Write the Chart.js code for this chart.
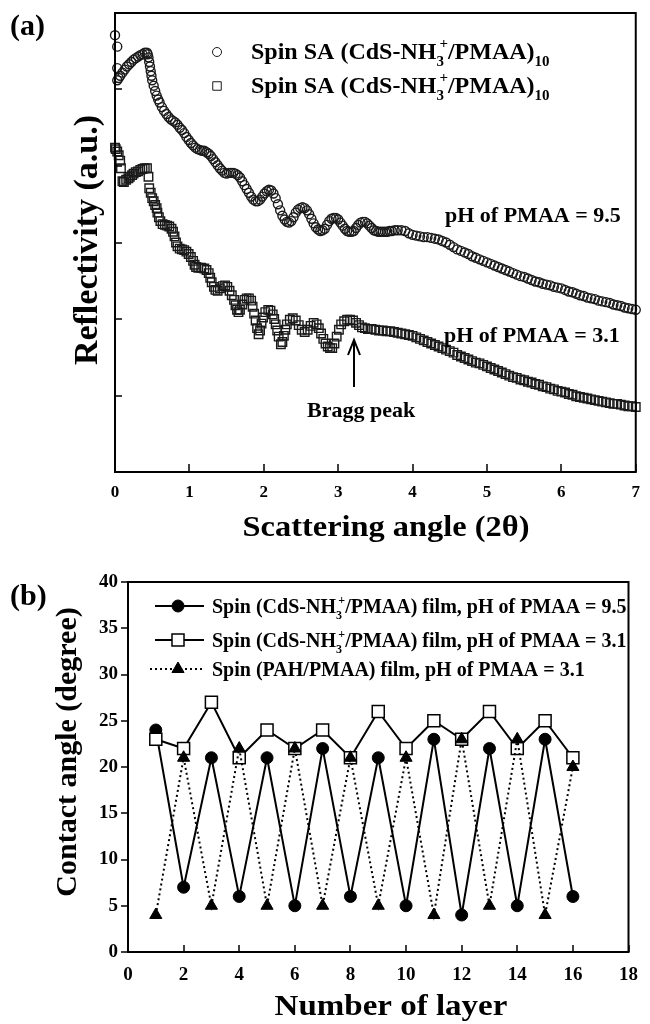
<!DOCTYPE html>
<html>
<head>
<meta charset="utf-8">
<script src="https://cdn.jsdelivr.net/npm/chart.js@4.4.1/dist/chart.umd.min.js"></script>
<style>
  html, body { margin: 0; padding: 0; background: #fff; }
  #wrap { position: relative; width: 650px; height: 1024px; }
  #wrap canvas { position: absolute; left: 0; }
  #reflect { top: 0; }
  #contact { top: 560px; }
</style>
</head>
<body>
<div id="wrap">
  <canvas id="reflect" width="650" height="560"></canvas>
  <canvas id="contact" width="650" height="464"></canvas>
</div>
<script>
(function () {
  "use strict";

  var SERIF = '"Liberation Serif", "Times New Roman", serif';
  Chart.defaults.font.family = SERIF;
  Chart.defaults.font.weight = "bold";
  Chart.defaults.color = "#000";

  // (a) X-ray reflectivity, scattering angle 2theta vs log reflectivity (a.u.)
  var upperAngle = [
    0.00, 0.03, 0.03, 0.03, 0.05, 0.07, 0.10, 0.13, 0.16, 0.19,
    0.22, 0.25, 0.28, 0.31, 0.34, 0.37, 0.40, 0.43, 0.44, 0.45,
    0.46, 0.47, 0.48, 0.49, 0.50, 0.52, 0.54, 0.56, 0.58, 0.60,
    0.63, 0.66, 0.69, 0.72, 0.75, 0.78, 0.81, 0.84, 0.87, 0.90,
    0.93, 0.96, 0.99, 1.02, 1.05, 1.08, 1.11, 1.14, 1.17, 1.20,
    1.23, 1.26, 1.29, 1.32, 1.35, 1.38, 1.41, 1.44, 1.47, 1.50,
    1.53, 1.56, 1.59, 1.62, 1.65, 1.68, 1.71, 1.74, 1.77, 1.80,
    1.83, 1.86, 1.89, 1.92, 1.95, 1.98, 2.01, 2.04, 2.07, 2.10,
    2.13, 2.16, 2.19, 2.22, 2.25, 2.28, 2.31, 2.34, 2.37, 2.40,
    2.43, 2.46, 2.49, 2.52, 2.55, 2.58, 2.61, 2.64, 2.67, 2.70,
    2.73, 2.76, 2.79, 2.82, 2.85, 2.88, 2.91, 2.94, 2.97, 3.00,
    3.03, 3.06, 3.09, 3.12, 3.15, 3.18, 3.21, 3.24, 3.27, 3.30,
    3.33, 3.36, 3.39, 3.42, 3.45, 3.48, 3.51, 3.54, 3.57, 3.60,
    3.63, 3.66, 3.69, 3.72, 3.76, 3.80, 3.85, 3.90, 3.95, 4.00,
    4.05, 4.10, 4.15, 4.20, 4.25, 4.30, 4.35, 4.40, 4.45, 4.50,
    4.55, 4.60, 4.65, 4.70, 4.75, 4.80, 4.85, 4.90, 4.95, 5.00,
    5.05, 5.10, 5.15, 5.20, 5.25, 5.30, 5.35, 5.40, 5.45, 5.50,
    5.55, 5.60, 5.65, 5.70, 5.75, 5.80, 5.85, 5.90, 5.95, 6.00,
    6.05, 6.10, 6.15, 6.20, 6.25, 6.30, 6.35, 6.40, 6.45, 6.50,
    6.55, 6.60, 6.65, 6.70, 6.75, 6.80, 6.85, 6.90, 6.95, 7.00
  ];
  var upperRefl = [
    5.71, 5.56, 5.28, 5.12, 5.15, 5.18, 5.22, 5.26, 5.30, 5.33,
    5.36, 5.39, 5.41, 5.43, 5.45, 5.46, 5.48, 5.48, 5.46, 5.42,
    5.36, 5.30, 5.24, 5.18, 5.12, 5.05, 4.98, 4.92, 4.87, 4.83,
    4.77, 4.72, 4.68, 4.64, 4.61, 4.59, 4.57, 4.54, 4.50, 4.47,
    4.43, 4.38, 4.34, 4.30, 4.27, 4.24, 4.22, 4.21, 4.20, 4.20,
    4.18, 4.16, 4.13, 4.09, 4.05, 4.01, 3.97, 3.94, 3.91, 3.90,
    3.91, 3.91, 3.91, 3.90, 3.88, 3.85, 3.80, 3.75, 3.70, 3.65,
    3.60, 3.56, 3.54, 3.54, 3.56, 3.60, 3.64, 3.67, 3.69, 3.68,
    3.64, 3.58, 3.50, 3.42, 3.35, 3.30, 3.27, 3.26, 3.28, 3.33,
    3.39, 3.43, 3.45, 3.46, 3.45, 3.42, 3.37, 3.31, 3.25, 3.20,
    3.17, 3.15, 3.16, 3.18, 3.23, 3.28, 3.31, 3.32, 3.32, 3.30,
    3.26, 3.22, 3.18, 3.15, 3.14, 3.14, 3.15, 3.19, 3.23, 3.26,
    3.27, 3.27, 3.25, 3.22, 3.19, 3.16, 3.15, 3.14, 3.14, 3.14,
    3.14, 3.14, 3.15, 3.15, 3.16, 3.16, 3.16, 3.15, 3.12, 3.10,
    3.09, 3.08, 3.07, 3.07, 3.06, 3.05, 3.04, 3.02, 3.00, 2.97,
    2.94, 2.91, 2.89, 2.87, 2.85, 2.82, 2.80, 2.78, 2.76, 2.74,
    2.72, 2.70, 2.68, 2.66, 2.64, 2.62, 2.60, 2.58, 2.56, 2.55,
    2.53, 2.51, 2.49, 2.48, 2.46, 2.45, 2.44, 2.42, 2.41, 2.40,
    2.38, 2.36, 2.35, 2.33, 2.31, 2.30, 2.28, 2.27, 2.26, 2.24,
    2.23, 2.22, 2.21, 2.19, 2.18, 2.17, 2.15, 2.14, 2.13, 2.12
  ];
  var lowerAngle = [
    0.00, 0.01, 0.03, 0.05, 0.07, 0.08, 0.10, 0.12, 0.15, 0.18,
    0.20, 0.23, 0.25, 0.28, 0.31, 0.34, 0.37, 0.40, 0.43, 0.45,
    0.46, 0.48, 0.50, 0.52, 0.54, 0.56, 0.57, 0.59, 0.61, 0.64,
    0.67, 0.70, 0.73, 0.76, 0.78, 0.80, 0.82, 0.84, 0.87, 0.90,
    0.93, 0.96, 0.99, 1.02, 1.05, 1.07, 1.09, 1.12, 1.16, 1.20,
    1.23, 1.26, 1.28, 1.30, 1.33, 1.35, 1.38, 1.41, 1.45, 1.48,
    1.51, 1.54, 1.57, 1.60, 1.62, 1.64, 1.66, 1.68, 1.71, 1.74,
    1.77, 1.80, 1.83, 1.85, 1.87, 1.89, 1.91, 1.93, 1.95, 1.97,
    1.99, 2.02, 2.06, 2.09, 2.12, 2.14, 2.16, 2.18, 2.20, 2.23,
    2.25, 2.27, 2.29, 2.31, 2.35, 2.39, 2.43, 2.47, 2.51, 2.55,
    2.59, 2.63, 2.67, 2.71, 2.74, 2.77, 2.80, 2.83, 2.86, 2.89,
    2.92, 2.95, 2.98, 3.01, 3.04, 3.08, 3.12, 3.16, 3.20, 3.24,
    3.28, 3.32, 3.36, 3.40, 3.45, 3.50, 3.55, 3.60, 3.65, 3.70,
    3.75, 3.80, 3.85, 3.90, 3.95, 4.00, 4.05, 4.10, 4.15, 4.20,
    4.25, 4.30, 4.35, 4.40, 4.45, 4.50, 4.55, 4.60, 4.65, 4.70,
    4.75, 4.80, 4.85, 4.90, 4.95, 5.00, 5.05, 5.10, 5.15, 5.20,
    5.25, 5.30, 5.35, 5.40, 5.45, 5.50, 5.55, 5.60, 5.65, 5.70,
    5.75, 5.80, 5.85, 5.90, 5.95, 6.00, 6.05, 6.10, 6.15, 6.20,
    6.25, 6.30, 6.35, 6.40, 6.45, 6.50, 6.55, 6.60, 6.65, 6.70,
    6.75, 6.80, 6.85, 6.90, 6.95, 7.00
  ];
  var lowerRefl = [
    4.24, 4.22, 4.19, 4.14, 4.07, 3.97, 3.80, 3.79, 3.82, 3.84,
    3.86, 3.88, 3.90, 3.92, 3.93, 3.95, 3.96, 3.97, 3.97, 3.86,
    3.71, 3.65, 3.58, 3.54, 3.49, 3.45, 3.39, 3.33, 3.28, 3.24,
    3.23, 3.22, 3.21, 3.18, 3.14, 3.08, 3.00, 2.95, 2.92, 2.91,
    2.90, 2.88, 2.85, 2.81, 2.76, 2.71, 2.68, 2.67, 2.67, 2.66,
    2.64, 2.60, 2.54, 2.48, 2.42, 2.38, 2.37, 2.40, 2.43, 2.44,
    2.42, 2.37, 2.31, 2.25, 2.18, 2.12, 2.09, 2.12, 2.19, 2.25,
    2.27, 2.27, 2.24, 2.16, 2.07, 1.98, 1.88, 1.80, 1.85, 1.94,
    2.02, 2.09, 2.12, 2.11, 2.06, 2.00, 1.93, 1.85, 1.77, 1.67,
    1.70, 1.78, 1.86, 1.93, 1.99, 2.01, 1.98, 1.92, 1.86, 1.83,
    1.86, 1.91, 1.95, 1.93, 1.88, 1.81, 1.74, 1.68, 1.64, 1.62,
    1.62, 1.68, 1.77, 1.86, 1.93, 1.97, 1.99, 1.99, 1.98, 1.95,
    1.92, 1.89, 1.88, 1.87, 1.87, 1.86, 1.85, 1.85, 1.84, 1.84,
    1.83, 1.82, 1.81, 1.80, 1.79, 1.78, 1.76, 1.74, 1.72, 1.70,
    1.68, 1.66, 1.64, 1.62, 1.60, 1.58, 1.56, 1.53, 1.51, 1.49,
    1.47, 1.45, 1.43, 1.42, 1.40, 1.38, 1.36, 1.34, 1.32, 1.30,
    1.28, 1.26, 1.24, 1.23, 1.21, 1.20, 1.18, 1.17, 1.15, 1.14,
    1.12, 1.11, 1.09, 1.08, 1.06, 1.05, 1.04, 1.02, 1.01, 0.99,
    0.98, 0.97, 0.96, 0.95, 0.94, 0.93, 0.92, 0.91, 0.90, 0.89,
    0.89, 0.88, 0.87, 0.86, 0.86, 0.85
  ];
  var legendA = ["Spin SA (CdS-NH_{3}^{+}/PMAA)_{10}", "Spin SA (CdS-NH_{3}^{+}/PMAA)_{10}"];
  var notesA = ["pH of PMAA = 9.5", "pH of PMAA = 3.1", "Bragg peak"];
  var titlesA = ["Scattering angle (2\u03B8)", "Reflectivity (a.u.)"];

  // (b) contact angle vs number of layers
  var layers = [1, 2, 3, 4, 5, 6, 7, 8, 9, 10, 11, 12, 13, 14, 15, 16];
  var angleCdS95 = [24, 7, 21, 6, 21, 5, 22, 6, 21, 5, 23, 4, 22, 5, 23, 6];
  var angleCdS31 = [23, 22, 27, 21, 24, 22, 24, 21, 26, 22, 25, 23, 26, 22, 25, 21];
  var anglePAH31 = [4, 21, 5, 22, 5, 22, 5, 21, 5, 21, 4, 23, 5, 23, 4, 20];
  var legendB = [
    "Spin (CdS-NH_{3}^{+}/PMAA) film, pH of PMAA = 9.5",
    "Spin (CdS-NH_{3}^{+}/PMAA) film, pH of PMAA = 3.1",
    "Spin (PAH/PMAA) film, pH of PMAA = 3.1"
  ];
  var titlesB = ["Number of layer", "Contact angle (degree)"];

  function bold(size) {
    return "bold " + size + "px " + SERIF;
  }

  function points(xs, ys) {
    return xs.map(function (x, i) { return { x: x, y: ys[i] }; });
  }

  // split "NH_{3}^{+}" style markup into plain / sub / sup runs
  function richParts(str) {
    var re = /([_^])\{([^}]*)\}/g, parts = [], last = 0, m;
    while ((m = re.exec(str))) {
      if (m.index > last) parts.push({ t: str.slice(last, m.index), k: "" });
      parts.push({ t: m[2], k: m[1] === "_" ? "sub" : "sup" });
      last = re.lastIndex;
    }
    if (last < str.length) parts.push({ t: str.slice(last), k: "" });
    return parts;
  }

  function drawRich(ctx, str, x, y, size) {
    var cx = x, prev = null, prevW = 0;
    ctx.textAlign = "left";
    ctx.textBaseline = "alphabetic";
    richParts(str).forEach(function (p) {
      var fs = p.k ? Math.round(size * 0.62) : size;
      ctx.font = bold(fs);
      var w = ctx.measureText(p.t).width;
      var dy = p.k === "sub" ? size * 0.3 : p.k === "sup" ? -size * 0.45 : 0;
      if (p.k && prev && prev.k && prev.k !== p.k) {
        // stack sup over sub, nudged right a little
        cx -= prevW * 0.6;
        ctx.fillText(p.t, cx, y + dy);
        cx += Math.max(w, prevW * 0.6);
      } else {
        ctx.fillText(p.t, cx, y + dy);
        cx += w;
      }
      prev = p;
      prevW = w;
    });
  }

  function stretchedText(ctx, text, x, y, size, sx, rot) {
    ctx.save();
    ctx.translate(x, y);
    if (rot) ctx.rotate(rot);
    ctx.scale(sx, 1);
    ctx.font = bold(size);
    ctx.textAlign = "center";
    ctx.textBaseline = "alphabetic";
    ctx.fillText(text, 0, 0);
    ctx.restore();
  }

  function marker(ctx, style, x, y, r) {
    ctx.beginPath();
    if (style === "circle") {
      ctx.arc(x, y, r, 0, Math.PI * 2);
    } else if (style === "rect") {
      var h = r * Math.SQRT1_2;
      ctx.rect(x - h, y - h, 2 * h, 2 * h);
    } else {
      ctx.moveTo(x, y - r);
      ctx.lineTo(x + r * 0.866, y + r * 0.5);
      ctx.lineTo(x - r * 0.866, y + r * 0.5);
      ctx.closePath();
    }
  }

  // Frame and tick marks (negative = up / left)
  var framePlugin = {
    id: "frame",
    afterDraw: function (chart, args, opts) {
      var ctx = chart.ctx, a = chart.chartArea;
      var sx = chart.scales.x, sy = chart.scales.y;
      ctx.save();
      ctx.strokeStyle = "#000";
      ctx.lineWidth = 1.5;
      ctx.beginPath();
      sx.ticks.forEach(function (t) {
        var p = Math.round(sx.getPixelForValue(t.value));
        ctx.moveTo(p, a.bottom);
        ctx.lineTo(p, a.bottom + opts.xTick);
      });
      sy.ticks.forEach(function (t) {
        var p = Math.round(sy.getPixelForValue(t.value));
        ctx.moveTo(a.left, p);
        ctx.lineTo(a.left + opts.yTick, p);
      });
      ctx.stroke();
      ctx.lineWidth = 2;
      ctx.strokeRect(a.left, a.top, a.right - a.left, a.bottom - a.top);
      ctx.restore();
    }
  };

  var reflectText = {
    id: "reflectText",
    afterDraw: function (chart) {
      var ctx = chart.ctx, ds = chart.data.datasets;
      ctx.save();
      ctx.fillStyle = "#000";
      ctx.font = bold(30);
      ctx.textAlign = "left";
      ctx.textBaseline = "alphabetic";
      ctx.fillText("(a)", 10, 35);

      stretchedText(ctx, titlesA[0], 386, 536, 30, 1.08, 0);
      stretchedText(ctx, titlesA[1], 97, 240, 34, 1, -Math.PI / 2);

      // legend
      [52, 86].forEach(function (cy, i) {
        ctx.strokeStyle = ds[i].pointBorderColor;
        ctx.lineWidth = 1;
        marker(ctx, ds[i].pointStyle, 217, cy, ds[i].pointStyle === "rect" ? 6 : 4.5);
        ctx.stroke();
        drawRich(ctx, legendA[i], 251, cy + 7, 24);
      });

      ctx.font = bold(22);
      ctx.textAlign = "left";
      ctx.fillText(notesA[0], 445, 222);
      ctx.fillText(notesA[1], 444, 342);
      ctx.fillText(notesA[2], 307, 417);

      // arrow to the Bragg peak
      ctx.strokeStyle = "#000";
      ctx.lineWidth = 2;
      ctx.beginPath();
      ctx.moveTo(354, 387);
      ctx.lineTo(354, 341);
      ctx.moveTo(348, 355);
      ctx.lineTo(354, 340);
      ctx.lineTo(360, 355);
      ctx.stroke();
      ctx.restore();
    }
  };

  var contactText = {
    id: "contactText",
    afterDraw: function (chart) {
      var ctx = chart.ctx, ds = chart.data.datasets;
      ctx.save();
      ctx.fillStyle = "#000";
      ctx.font = bold(30);
      ctx.textAlign = "left";
      ctx.textBaseline = "alphabetic";
      ctx.fillText("(b)", 10, 45);

      stretchedText(ctx, titlesB[0], 391, 455, 30, 1.1, 0);
      stretchedText(ctx, titlesB[1], 76, 192, 30, 1, -Math.PI / 2);

      // legend: line sample, marker, label
      [46, 80, 109].forEach(function (cy, i) {
        var d = ds[i];
        ctx.save();
        ctx.strokeStyle = d.borderColor;
        ctx.lineWidth = d.borderWidth;
        ctx.setLineDash(d.borderDash || []);
        ctx.beginPath();
        ctx.moveTo(i === 2 ? 150 : 155, cy);
        ctx.lineTo(204, cy);
        ctx.stroke();
        ctx.restore();
        ctx.fillStyle = d.pointBackgroundColor;
        ctx.strokeStyle = d.pointBorderColor;
        ctx.lineWidth = d.pointBorderWidth;
        marker(ctx, d.pointStyle, 178, cy, d.pointRadius);
        ctx.fill();
        ctx.stroke();
        ctx.fillStyle = "#000";
        drawRich(ctx, legendB[i], 212, cy + 6.5, 20);
      });
      ctx.restore();
    }
  };

  new Chart(document.getElementById("reflect"), {
    type: "scatter",
    data: {
      datasets: [
        {
          label: legendA[0],
          data: points(upperAngle, upperRefl),
          pointStyle: "circle",
          pointRadius: 4.5,
          pointBorderWidth: 1.4,
          pointBorderColor: "#1a1a1a",
          pointBackgroundColor: "rgba(0,0,0,0)",
          clip: false
        },
        {
          label: legendA[1],
          data: points(lowerAngle, lowerRefl),
          pointStyle: "rect",
          pointRadius: 6,
          pointBorderWidth: 1.4,
          pointBorderColor: "#1a1a1a",
          pointBackgroundColor: "rgba(0,0,0,0)",
          clip: false
        }
      ]
    },
    options: {
      responsive: false,
      animation: false,
      events: [],
      layout: { padding: { top: 13, right: 8, left: 0, bottom: 0 } },
      plugins: {
        legend: { display: false },
        tooltip: { enabled: false },
        frame: { xTick: -8, yTick: 7 }
      },
      scales: {
        x: {
          type: "linear",
          min: 0,
          max: 7,
          ticks: { stepSize: 1, padding: 10, font: { size: 17, weight: "bold" }, color: "#000" },
          grid: { display: false, drawTicks: false },
          border: { display: false },
          afterFit: function (s) { s.height = 88; }
        },
        y: {
          min: 0,
          max: 6,
          ticks: { stepSize: 1, display: false },
          grid: { display: false, drawTicks: false },
          border: { display: false },
          afterFit: function (s) { s.width = 115; }
        }
      }
    },
    plugins: [framePlugin, reflectText]
  });

  new Chart(document.getElementById("contact"), {
    type: "scatter",
    data: {
      datasets: [
        {
          label: legendB[0],
          data: points(layers, angleCdS95),
          showLine: true,
          borderColor: "#000",
          borderWidth: 2,
          pointStyle: "circle",
          pointRadius: 6,
          pointBorderWidth: 1,
          pointBorderColor: "#000",
          pointBackgroundColor: "#000",
          order: 3
        },
        {
          label: legendB[1],
          data: points(layers, angleCdS31),
          showLine: true,
          borderColor: "#000",
          borderWidth: 2,
          pointStyle: "rect",
          pointRadius: 8.5,
          pointBorderWidth: 1.5,
          pointBorderColor: "#000",
          pointBackgroundColor: "#fff",
          order: 2
        },
        {
          label: legendB[2],
          data: points(layers, anglePAH31),
          showLine: true,
          borderColor: "#000",
          borderWidth: 2,
          borderDash: [2, 3],
          pointStyle: "triangle",
          pointRadius: 7,
          pointBorderWidth: 1,
          pointBorderColor: "#000",
          pointBackgroundColor: "#000",
          order: 1
        }
      ]
    },
    options: {
      responsive: false,
      animation: false,
      events: [],
      layout: { padding: { top: 22, right: 10, left: 0, bottom: 0 } },
      plugins: {
        legend: { display: false },
        tooltip: { enabled: false },
        frame: { xTick: -7, yTick: -7 }
      },
      scales: {
        x: {
          type: "linear",
          min: 0,
          max: 18,
          ticks: { stepSize: 2, padding: 12, font: { size: 19, weight: "bold" }, color: "#000" },
          grid: { display: false, drawTicks: false },
          border: { display: false },
          afterFit: function (s) { s.height = 72; }
        },
        y: {
          min: 0,
          max: 40,
          ticks: { stepSize: 5, padding: 10, font: { size: 19, weight: "bold" }, color: "#000" },
          grid: { display: false, drawTicks: false },
          border: { display: false },
          afterFit: function (s) { s.width = 128; }
        }
      }
    },
    plugins: [framePlugin, contactText]
  });
})();
</script>
</body>
</html>
